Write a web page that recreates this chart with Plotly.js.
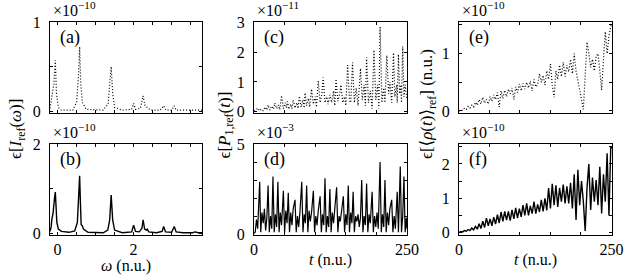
<!DOCTYPE html>
<html>
<head>
<meta charset="utf-8">
<script src="https://cdn.plot.ly/plotly-3.0.1.min.js"></script>
<style>html,body{margin:0;padding:0;background:#fff;}#chart{width:630px;height:276px;}</style>
</head>
<body>
<div id="chart"></div>
<script>
// ---------- data ----------
// (a) dotted spectrum, units 1e-10
const omegaA = [-0.2,-0.15,-0.1,-0.06,-0.03,0.02,0.1,0.4,0.5,0.55,0.58,0.61,0.65,0.75,1.2,1.33,1.38,1.41,1.45,1.5,1.7,1.95,2.0,2.05,2.18,2.25,2.3,2.35,2.45,2.7,2.79,2.85,3.0,3.07,3.12,3.5,3.8];
const intensityA = [0.03,0.15,0.3,0.57,0.2,0.04,0.01,0.01,0.1,0.4,0.72,0.3,0.1,0.02,0.01,0.08,0.3,0.5,0.2,0.04,0.01,0.02,0.085,0.02,0.03,0.17,0.06,0.04,0.01,0.01,0.06,0.01,0.01,0.06,0.01,0.01,0.01];
// (b) solid spectrum, units 1e-10
const omegaB = [-0.2,-0.17,-0.15,-0.12,-0.08,-0.06,-0.04,-0.02,0.02,0.1,0.3,0.45,0.52,0.56,0.58,0.6,0.62,0.65,0.68,0.8,1.2,1.32,1.37,1.41,1.45,1.5,1.7,1.95,2.0,2.05,2.15,2.22,2.25,2.29,2.33,2.36,2.4,2.6,2.75,2.79,2.84,3.0,3.07,3.12,3.3,3.55,3.62,3.7,3.8];
const intensityB = [0.05,0.15,0.33,0.45,0.8,0.93,0.6,0.25,0.1,0.05,0.03,0.06,0.25,0.9,1.29,0.7,0.2,0.18,0.1,0.03,0.02,0.08,0.3,0.86,0.3,0.08,0.02,0.04,0.19,0.05,0.04,0.12,0.31,0.1,0.08,0.1,0.04,0.02,0.05,0.16,0.04,0.03,0.16,0.04,0.02,0.02,0.04,0.02,0.02];
// (c) dotted, units 1e-11
const tC = [0,3,6.6,9,12,15,18,21,23,26,29,32,34,37,40,42,45,48,51,53,54.5,57,60,62,64,67,70,72,74,77,80,82,83.5,86,89,91,94,97,100,102,105,108,111,113,116,119,121,124,127,130,132,134,137,140,142,145,148,150,153,156,158,161,164,167,170,174,177,180,182,184,187,190,193,196,199,202,204,206,209,212,214,217,220,222,225,228,230,233,234,236,238,240,241,243,245,247,250];
const polC = [0.02,0.05,0.11,0.02,0.08,0.03,0.15,0.05,0.22,0.05,0.18,0.08,0.29,0.1,0.22,0.06,0.54,0.1,0.3,0.12,0.34,0.08,0.25,0.1,0.39,0.12,0.3,0.1,0.52,0.15,0.4,0.12,0.63,0.2,0.45,0.15,0.76,0.25,0.5,0.15,1.04,0.3,0.6,1.15,0.3,0.5,0.25,0.56,0.3,0.7,0.2,1.1,0.35,0.6,0.9,0.3,0.5,0.2,1.57,0.4,0.3,1.66,0.3,0.8,0.2,1.46,0.4,0.9,0.2,1.83,0.3,0.7,0.1,2.08,0.4,0.9,0.1,2.87,0.3,0.8,0.3,1.9,0.6,1.0,0.3,1.99,0.5,0.9,0.3,1.94,0.6,0.9,0.3,2.2,0.5,0.9,0.4];
// (d) solid, units 1e-3
const tD = [0,2,4,6,9.3,11,13,15,17,19,21,23,25,27,29,31,33,35,37,39,41,43,45,48,50,52,54,56,58,60,62,64,67,69,71,73,75,78,80,82,84,86,88,90,92,94,97,99,101,103,105,108,110,112,114,116,118,120,122,124,126,128,130,132,135,137,139,141,143,146,148,150,152,154,156,158,160,162,164,166,168,170,172,174,176,178,180,182,184,186,188,190,193,195,197,199,201,203,206,208,210,212,214,216,218,220,222,225,227,229,231,234,236,239,241,243,245,247,249,250];
const polD = [0.05,0.1,0.8,0.3,2.9,0.1,1.2,0.6,1.4,0.2,0.9,2.7,0.1,1.0,0.3,3.2,0.1,1.1,0.4,2.9,0.1,1.2,0.5,2.4,0.1,1.3,0.6,2.3,0.1,1.2,0.5,1.4,1.9,0.1,1.0,0.4,1.2,2.9,0.1,1.1,0.6,2.7,0.1,1.3,0.7,1.2,2.4,0.1,1.0,0.5,1.3,2.1,0.1,1.1,0.5,3.1,0.1,1.0,0.4,2.5,0.1,1.2,0.6,1.3,2.6,0.1,1.0,0.7,1.2,2.1,0.1,1.1,0.5,2.7,0.1,1.2,0.6,2.35,0.1,1.0,0.7,1.1,0.4,0.9,3.0,0.1,1.0,0.5,2.8,0.1,1.1,0.6,2.35,0.1,1.0,0.4,1.2,0.3,4.0,0.1,1.1,0.4,3.0,0.1,1.2,0.5,1.4,1.9,0.1,1.0,0.3,2.35,0.1,3.75,0.1,1.0,3.2,0.1,0.9,0.3];
// (e) dotted, units 1e-10
const tE = [0,3,6,9,12,15,18,21,24,27,30,33,36,39,42,45,48,51,54,57,60,63,66,69,72,75,78,81,84,87,90,93,96,99,102,105,108,111,114,117,120,123,126,129,132,135,138,141,144,147,150,153,156,159,162,165,168,171,174,177,180,183,186,189,192,195,198,201,204,207,210,213,216,219,222,225,228,231,234,237,240,243,246,249,250];
const rhoE = [0.0,0.02,0.01,0.05,0.03,0.08,0.05,0.1,0.07,0.15,0.1,0.2,0.12,0.24,0.14,0.2,0.12,0.25,0.17,0.28,0.2,0.32,0.07,0.35,0.22,0.36,0.25,0.38,0.3,0.4,0.2,0.42,0.32,0.47,0.35,0.48,0.38,0.5,0.4,0.52,0.35,0.55,0.42,0.45,0.65,0.5,0.62,0.45,0.7,0.55,0.82,0.45,0.24,0.7,0.55,0.8,0.6,0.85,0.6,0.8,0.68,0.9,0.65,1.0,0.7,0.55,0.35,0.2,0.03,0.6,1.2,1.0,0.76,0.9,0.7,0.95,1.0,0.7,0.36,0.9,1.38,1.0,1.3,1.47,1.53];
// (f) solid, units 1e-10
const tF = [0,3,6,9,12,15,18,21,24,27,30,33,36,39,42,45,48,51,54,57,60,63,66,69,72,75,78,81,84,87,90,93,96,99,102,105,108,111,114,117,120,123,126,129,132,135,138,141,144,147,150,153,156,159,162,165,168,171,174,177,180,183,186,189,192,195,198,201,204,207,210,213,216,219,222,225,228,231,234,237,240,243,246,249,250];
const rhoF = [0.0,0.03,0.02,0.06,0.04,0.09,0.06,0.13,0.08,0.18,0.1,0.26,0.12,0.33,0.15,0.42,0.2,0.4,0.2,0.45,0.25,0.52,0.28,0.6,0.33,0.62,0.36,0.62,0.35,0.66,0.4,0.72,0.42,0.7,0.46,0.8,0.5,0.85,0.5,0.78,0.55,0.9,0.55,0.82,0.6,0.95,0.62,1.0,0.65,1.3,0.7,1.42,0.8,1.38,0.75,1.3,0.9,1.4,0.85,1.35,0.85,1.45,0.7,1.7,0.37,1.83,0.8,1.5,0.9,0.05,1.3,2.0,0.66,1.6,0.9,1.53,0.8,1.92,0.56,1.7,0.9,2.31,0.5,2.52,2.45];

// tick labels
const omegaTickVals = [0,0.5,1,1.5,2,2.5,3,3.5];
const omegaTickText = ['0','','','','2','','',''];
const omegaTickTextNone = ['','','','','','','',''];
const tTickVals = [0,50,100,150,200,250];
const tTickText = ['0','','','','','250'];
const tTickTextNone = ['','','','','',''];
const yTickValsA = [0,0.5,1]; const yTickTextA = ['0','','1'];
const yTickValsB = [0,1,2]; const yTickTextB = ['0','','2'];
const yTickValsC = [0,1,2,3]; const yTickTextC = ['0','1','2','3'];
const yTickValsD = [0,1,2,3,4,5]; const yTickTextD = ['0','','','','','5'];
const yTickValsE = [0,0.5,1,1.5]; const yTickTextE = ['0','','1',''];
const yTickValsF = [0,0.5,1,1.5,2,2.5]; const yTickTextF = ['0','','1','','2',''];

// ---------- layout helpers ----------
const W = 630, H = 276;
const FONT = "Liberation Serif, DejaVu Serif, serif";
const px = v => v / W;
const py = v => 1 - v / H;

const dotted = {color:'#000', width:1.2, dash:'1px,2px'};
const solid = {color:'#000', width:1.4};

const traces = [
  {x: omegaA, y: intensityA, xaxis:'x', yaxis:'y', mode:'lines', line: dotted},
  {x: omegaB, y: intensityB, xaxis:'x2', yaxis:'y2', mode:'lines', line: solid},
  {x: tC, y: polC, xaxis:'x3', yaxis:'y3', mode:'lines', line: dotted},
  {x: tD, y: polD, xaxis:'x4', yaxis:'y4', mode:'lines', line: {color:'#000', width:1.2}},
  {x: tE, y: rhoE, xaxis:'x5', yaxis:'y5', mode:'lines', line: dotted},
  {x: tF, y: rhoF, xaxis:'x6', yaxis:'y6', mode:'lines', line: solid},
];

function ax(extra) {
  return Object.assign({
    showgrid:false, zeroline:false, showline:true, linecolor:'#000', linewidth:1,
    mirror:'ticks', ticks:'inside', ticklen:3, tickwidth:1, tickcolor:'#000',
    tickmode:'array', tickfont:{family:FONT, size:16, color:'#000'}, fixedrange:true
  }, extra);
}

const colX = [[50,202],[254,407],[459,612]];
const rowY = [[22,113],[144,235]];
const dom = (c, r) => ({x:[px(colX[c][0]), px(colX[c][1])], y:[py(rowY[r][1]), py(rowY[r][0])]});

const layout = {
  width: W, height: H, margin:{l:0,r:0,t:0,b:0},
  paper_bgcolor:'#fff', plot_bgcolor:'#fff', showlegend:false,
  font:{family:FONT, color:'#000', size:16},
  xaxis:  ax({domain: dom(0,0).x, anchor:'y',  range:[-0.2,3.8], tickvals: omegaTickVals, ticktext: omegaTickTextNone}),
  yaxis:  ax({domain: dom(0,0).y, anchor:'x',  range:[-0.022,1.0], tickvals: yTickValsA, ticktext: yTickTextA, ticklabelstandoff:5}),
  xaxis2: ax({domain: dom(0,1).x, anchor:'y2', range:[-0.2,3.8], tickvals: omegaTickVals, ticktext: omegaTickText}),
  yaxis2: ax({domain: dom(0,1).y, anchor:'x2', range:[-0.03,2.0], tickvals: yTickValsB, ticktext: yTickTextB, ticklabelstandoff:5}),
  xaxis3: ax({domain: dom(1,0).x, anchor:'y3', range:[0,250], tickvals: tTickVals, ticktext: tTickTextNone}),
  yaxis3: ax({domain: dom(1,0).y, anchor:'x3', range:[-0.05,3.03], tickvals: yTickValsC, ticktext: yTickTextC, ticklabelstandoff:5}),
  xaxis4: ax({domain: dom(1,1).x, anchor:'y4', range:[0,250], tickvals: tTickVals, ticktext: tTickText}),
  yaxis4: ax({domain: dom(1,1).y, anchor:'x4', range:[-0.05,5.0], tickvals: yTickValsD, ticktext: yTickTextD, ticklabelstandoff:5}),
  xaxis5: ax({domain: dom(2,0).x, anchor:'y5', range:[0,251], tickvals: tTickVals, ticktext: tTickTextNone}),
  yaxis5: ax({domain: dom(2,0).y, anchor:'x5', range:[-0.035,1.55], tickvals: yTickValsE, ticktext: yTickTextE, ticklabelstandoff:5}),
  xaxis6: ax({domain: dom(2,1).x, anchor:'y6', range:[0,251], tickvals: tTickVals, ticktext: tTickText}),
  yaxis6: ax({domain: dom(2,1).y, anchor:'x6', range:[-0.07,2.58], tickvals: yTickValsF, ticktext: yTickTextF, ticklabelstandoff:5}),
  annotations: []
};

const ann = layout.annotations;
const panelLetters = ['(a)','(b)','(c)','(d)','(e)','(f)'];
const exps = ['\u00d710<sup>\u221210</sup>','\u00d710<sup>\u221210</sup>','\u00d710<sup>\u221211</sup>','\u00d710<sup>\u22123</sup>','\u00d710<sup>\u221210</sup>','\u00d710<sup>\u221210</sup>'];
for (let c = 0; c < 3; c++) {
  for (let r = 0; r < 2; r++) {
    const i = c*2 + r;
    ann.push({xref:'paper', yref:'paper', x: px(colX[c][0]+8), y: py(rowY[r][0]+15), xanchor:'left', yanchor:'middle',
      text: panelLetters[i], showarrow:false, font:{size:18}});
    ann.push({xref:'paper', yref:'paper', x: px(colX[c][0]+1), y: py(rowY[r][0]-1), xanchor:'left', yanchor:'bottom',
      text: exps[i], showarrow:false, font:{size:16}});
  }
}
// axis titles
ann.push({xref:'paper', yref:'paper', x: px(126), y: py(266), xanchor:'center', yanchor:'middle',
  text:'<i>\u03c9</i> (n.u.)', showarrow:false, font:{size:16}});
ann.push({xref:'paper', yref:'paper', x: px(330), y: py(260), xanchor:'center', yanchor:'middle',
  text:'<i>t</i> (n.u.)', showarrow:false, font:{size:16}});
ann.push({xref:'paper', yref:'paper', x: px(535), y: py(260), xanchor:'center', yanchor:'middle',
  text:'<i>t</i> (n.u.)', showarrow:false, font:{size:16}});
ann.push({xref:'paper', yref:'paper', x: px(17), y: py(161), xanchor:'center', yanchor:'bottom', textangle:-90,
  text:'\u03f5[<i>I</i><sub>ref</sub>(<i>\u03c9</i>)]', showarrow:false, font:{size:17}});
ann.push({xref:'paper', yref:'paper', x: px(225), y: py(161), xanchor:'center', yanchor:'bottom', textangle:-90,
  text:'\u03f5[<i>P</i><sub>1,ref</sub>(<i>t</i>)]', showarrow:false, font:{size:17}});
ann.push({xref:'paper', yref:'paper', x: px(428), y: py(161), xanchor:'center', yanchor:'bottom', textangle:-90,
  text:'\u03f5[\u27e8<i>\u03c1</i>(<i>t</i>)\u27e9<sub>ref</sub>] (n.u.)', showarrow:false, font:{size:17}});

Plotly.newPlot('chart', traces, layout, {displayModeBar:false});
</script>
</body>
</html>
